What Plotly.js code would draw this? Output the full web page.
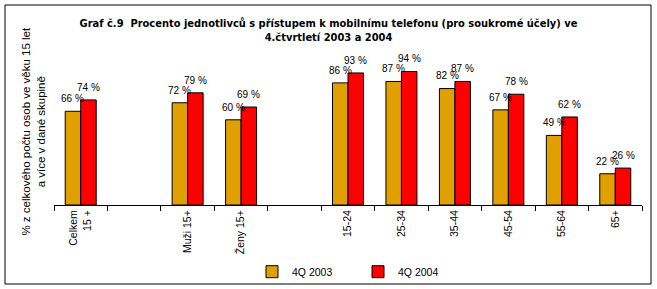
<!DOCTYPE html>
<html>
<head>
<meta charset="utf-8">
<script src="https://cdn.plot.ly/plotly-3.0.1.min.js"></script>
<style>html,body{margin:0;padding:0;background:#fff;}#chart{width:657px;height:289px;}</style>
</head>
<body>
<div id="chart"></div>
<script>
// Categories (blank slots are spacer categories in the original chart)
var categories = ["Celkem<br>15 +", "\u200b", "Muži 15+", "Ženy 15+", "\u200b\u200b", "15-24", "25-34", "35-44", "45-54", "55-64", "65+"];
var values2003 = [66, null, 72, 60, null, 86, 87, 82, 67, 49, 22];
var values2004 = [74, null, 79, 69, null, 93, 94, 87, 78, 62, 26];
var seriesNames = ["4Q 2003", "4Q 2004"];
var seriesColors = ["#E0A000", "#FF0000"];

var labelFont = {family: "Liberation Sans, Arial, sans-serif", size: 10, color: "#000"};

var traces = [values2003, values2004].map(function (vals, k) {
  return {
    type: "bar",
    name: seriesNames[k],
    x: categories,
    y: vals,
    marker: {color: seriesColors[k], line: {color: "#000", width: 1}},
    hoverinfo: "skip"
  };
});

var annotations = [];
[values2003, values2004].forEach(function (vals, k) {
  vals.forEach(function (v, i) {
    if (v === null) return;
    annotations.push({
      x: categories[i], y: v, xref: "x", yref: "y",
      text: v + " %", showarrow: false,
      xshift: k === 0 ? -7.75 : 7.75, yshift: 12.7,
      xanchor: "center", yanchor: "middle",
      font: labelFont
    });
  });
});

// y-axis title (two lines, rotated)
annotations.push({
  xref: "paper", yref: "paper", x: -0.035, y: 0.52,
  xanchor: "center", yanchor: "middle", textangle: -90,
  showarrow: false,
  text: "% z celkového počtu osob ve věku 15 let<br>a více v dané skupině",
  font: {family: "Liberation Sans, Arial, sans-serif", size: 11.5, color: "#000"}
});

var layout = {
  width: 657, height: 289,
  margin: {l: 54, r: 15, t: 63, b: 84, pad: 0, autoexpand: false},
  paper_bgcolor: "#fff", plot_bgcolor: "#fff",
  barmode: "group", bargap: 0.42, bargroupgap: 0,
  title: {
    text: "Graf č.9  Procento jednotlivců s přístupem k mobilnímu telefonu (pro soukromé účely) ve<br>4.čtvrtletí 2003 a 2004",
    font: {family: "Liberation Sans Narrow, Arial Narrow, DejaVu Sans Condensed, sans-serif", size: 11, color: "#000", weight: "bold"},
    x: 0.5, xref: "container", xanchor: "center",
    y: 1 - 26.5 / 289, yref: "container", yanchor: "middle"
  },
  xaxis: {
    type: "category",
    tickson: "boundaries",
    ticks: "outside", ticklen: 5, tickcolor: "#000", tickwidth: 1,
    showline: true, linecolor: "#000", linewidth: 1,
    showgrid: false, zeroline: false,
    tickangle: -90,
    automargin: false,
    tickfont: {family: "Liberation Sans, Arial, sans-serif", size: 10.5, color: "#000"},
    fixedrange: true
  },
  yaxis: {
    range: [0, 100],
    visible: true, showticklabels: false, ticks: "",
    showline: false, showgrid: false, zeroline: false,
    automargin: false,
    fixedrange: true
  },
  showlegend: true,
  legend: {
    orientation: "h",
    xref: "container", x: 252 / 657, xanchor: "left",
    yref: "container", y: 1 - 271.7 / 289, yanchor: "middle",
    font: {family: "Liberation Sans, Arial, sans-serif", size: 10.5, color: "#000"},
    bgcolor: "rgba(0,0,0,0)",
    itemwidth: 30,
    entrywidth: 61, entrywidthmode: "pixels"
  },
  annotations: annotations,
  shapes: [{
    type: "rect", xref: "paper", yref: "paper",
    x0: (5 - 54) / 588, x1: (651 - 54) / 588,
    y0: (205 - 284) / 142, y1: (205 - 5) / 142,
    line: {color: "#000", width: 1}, fillcolor: "rgba(0,0,0,0)", layer: "above"
  }]
};

Plotly.newPlot("chart", traces, layout, {staticPlot: true, displayModeBar: false});
</script>
</body>
</html>
